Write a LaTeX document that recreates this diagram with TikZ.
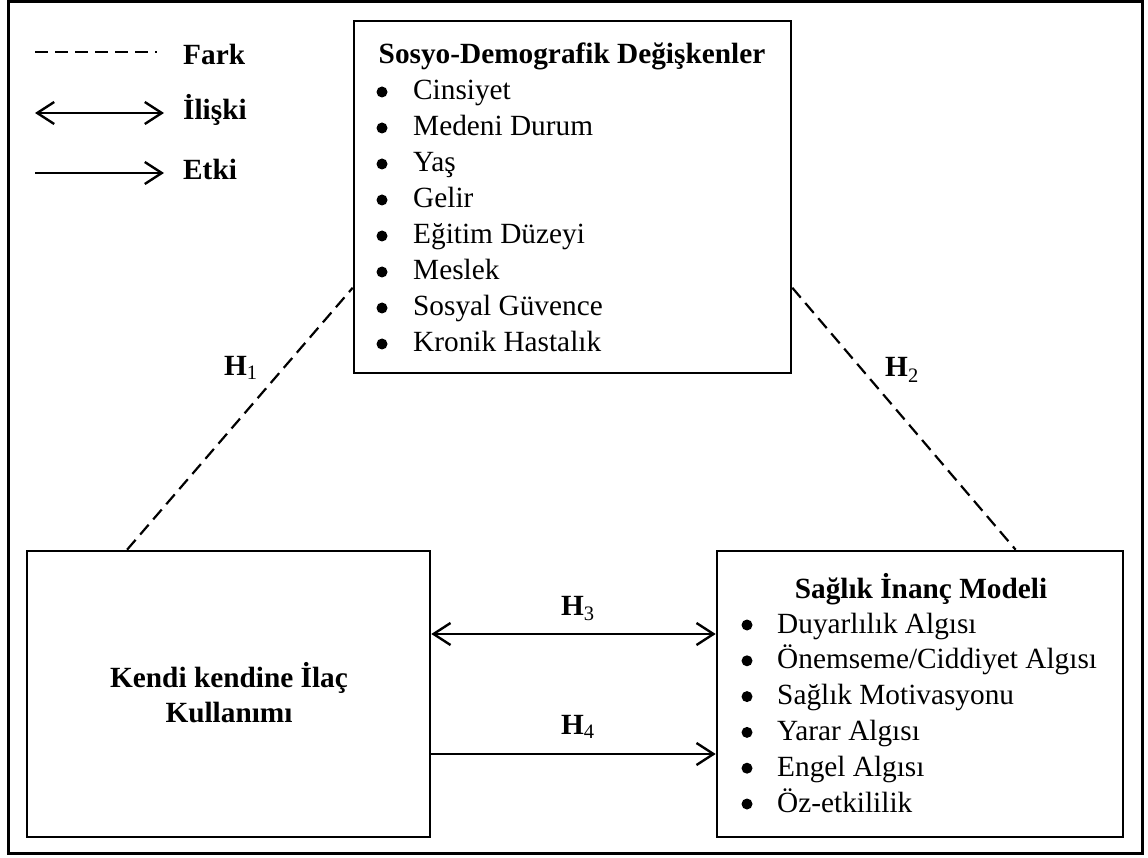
\documentclass[tikz,border=0pt]{standalone}
\usepackage{fontspec}
\setmainfont{Liberation Serif}
\usetikzlibrary{arrows.meta,calc}
\tikzset{
  box/.style={draw, line width=2.6pt, rectangle, inner sep=0pt},
  txt/.style={anchor=base west, inner sep=0pt, font=\fontsize{29.3}{36}\selectfont},
  btxt/.style={anchor=base west, inner sep=0pt, font=\fontsize{29.3}{36}\selectfont\bfseries},
  ttl/.style={anchor=base, inner sep=0pt, font=\fontsize{29.3}{36}\selectfont\bfseries},
  bul/.style={circle, fill=black, inner sep=0pt, minimum size=11pt},
  diffline/.style={line width=2.2pt, dash pattern=on 13pt off 7pt},
  conn/.style={line width=2.4pt},
  mytip/.tip={Straight Barb[length=17pt,width=22pt]}
}
\begin{document}
\begin{tikzpicture}[x=1pt,y=-1pt]
\useasboundingbox (0,0) rectangle (1148,858);
% outer frame
\node[box, line width=3pt, minimum width=1134pt, minimum height=851pt] (frame) at (575,427.5) {};

% legend
\coordinate (l1a) at (35,52);
\coordinate (l1b) at (157,52);
\coordinate (l2a) at (35,113);
\coordinate (l2b) at (164,113);
\coordinate (l3a) at (35,173);
\coordinate (l3b) at (164,173);
\draw[diffline] (l1a) -- (l1b);
\draw[conn, mytip-mytip] (l2a) -- (l2b);
\draw[conn, -mytip] (l3a) -- (l3b);
\node[btxt] (fark) at (183,65) {Fark};
\node[btxt] (iliski) at (183,120) {İlişki};
\node[btxt] (etki) at (183,180) {Etki};

% top box
\node[box, minimum width=437pt, minimum height=352pt] (sosyo) at (572.5,197) {};
\node[ttl] (sosyoT) at (572,64) {Sosyo-Demografik Değişkenler};
\foreach \i/\t in {0/Cinsiyet,1/Medeni Durum,2/Yaş,3/Gelir,4/Eğitim Düzeyi,5/Meslek,6/Sosyal Güvence,7/Kronik Hastalık}{
  \node[bul] (sb\i) at (382,{92+36*\i}) {};
  \node[txt] (si\i) at (413,{100+36*\i}) {\t};
}

% left box
\node[box, minimum width=403pt, minimum height=286pt] (kendi) at (228.5,694) {};
\node[ttl] (kendiT1) at (229,687) {Kendi kendine İlaç};
\node[ttl] (kendiT2) at (229,722) {Kullanımı};

% right box
\node[box, minimum width=406pt, minimum height=286pt] (saglik) at (920,694) {};
\node[ttl] (saglikT) at (921,598) {Sağlık İnanç Modeli};
\foreach \i/\t in {0/{Duyarlılık Algısı},1/{Önemseme/Ciddiyet Algısı},2/{Sağlık Motivasyonu},3/{Yarar Algısı},4/{Engel Algısı},5/{Öz-etkililik}}{
  \node[bul] (rb\i) at (747,{625+35.8*\i}) {};
  \node[txt] (ri\i) at (777,{633+35.8*\i}) {\t};
}

% dashed connectors
\draw[diffline] ($(kendi.north west)!0.25!(kendi.north east)$) -- ($(sosyo.north west)!0.756!(sosyo.south west)$);
\draw[diffline] ($(sosyo.north east)!0.756!(sosyo.south east)$) -- ($(saglik.north west)!0.734!(saglik.north east)$);

% arrows
\coordinate (a3) at (0,634);
\coordinate (a4) at (0,754);
\draw[conn, mytip-mytip] (kendi.east |- a3) -- (saglik.west |- a3);
\draw[conn, -mytip] (kendi.east |- a4) -- (saglik.west |- a4);

% labels
\node[btxt] (h1) at (224,375) {H{\mdseries\textsubscript{1}}};
\node[btxt] (h2) at (885,377) {H{\mdseries\textsubscript{2}}};
\node[btxt] (h3) at (561,615) {H{\mdseries\textsubscript{3}}};
\node[btxt] (h4) at (561,734) {H{\mdseries\textsubscript{4}}};
\end{tikzpicture}
\end{document}
